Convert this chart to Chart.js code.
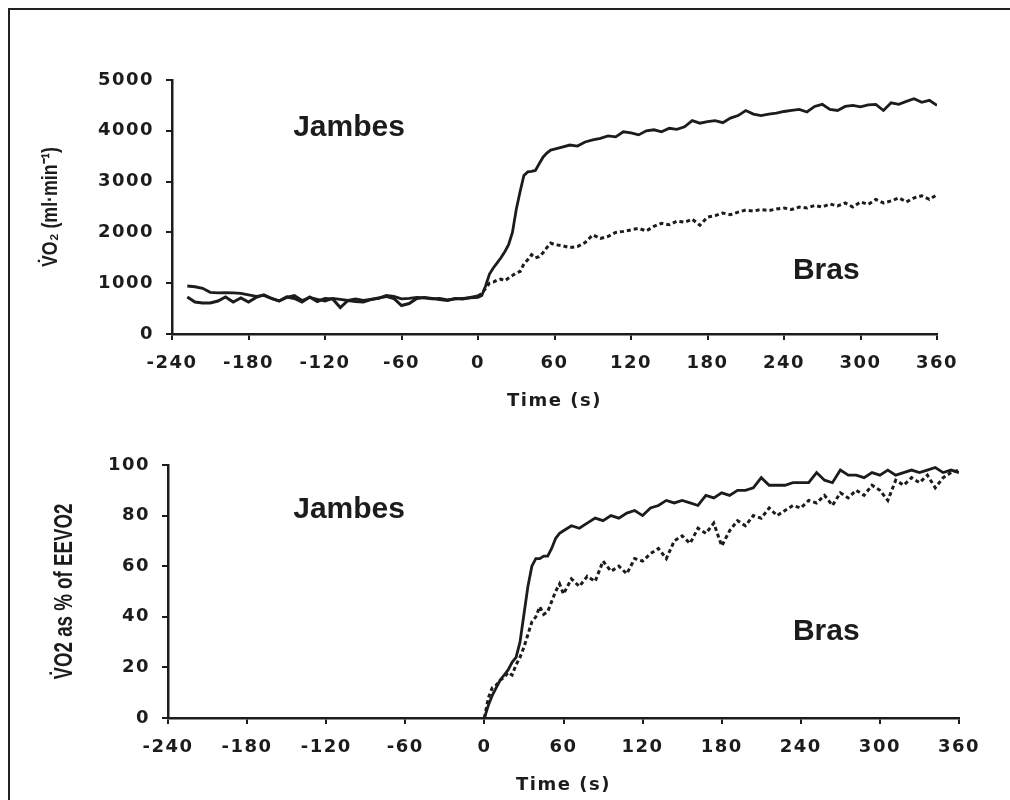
<!DOCTYPE html>
<html>
<head>
<meta charset="utf-8">
<script src="https://cdn.jsdelivr.net/npm/chart.js@4/dist/chart.umd.min.js"></script>
<style>
  html, body { margin: 0; padding: 0; background: #fff; }
  body { width: 1010px; height: 800px; position: relative; overflow: hidden; }
  .frame { position: absolute; left: 8px; top: 8px; width: 1020px; height: 810px;
           border-left: 2px solid #222; border-top: 2px solid #222; }
  canvas { position: absolute; left: 0; }
  #topChart { top: 0; }
  #bottomChart { top: 420px; }
</style>
</head>
<body>
<div class="frame"></div>
<canvas id="topChart" width="1010" height="420"></canvas>
<canvas id="bottomChart" width="1010" height="380"></canvas>
<script>
// ---- data ----
const timeTop = [
  -228, -222, -216, -210, -204, -198, -192, -186, -180, -174,
  -168, -162, -156, -150, -144, -138, -132, -126, -120, -114,
  -108, -102, -96, -90, -84, -78, -72, -66, -60, -54,
  -48, -42, -36, -30, -24, -18, -12, -6, 0,
  3, 6, 9, 12, 15, 18, 21, 24, 27, 30,
  33, 36, 39, 42, 45, 48, 51, 54, 57, 60,
  66, 72, 78, 84, 90, 96, 102, 108, 114, 120,
  126, 132, 138, 144, 150, 156, 162, 168, 174, 180,
  186, 192, 198, 204, 210, 216, 222, 228, 234, 240,
  246, 252, 258, 264, 270, 276, 282, 288, 294, 300,
  306, 312, 318, 324, 330, 336, 342, 348, 354, 360
];

// VO2 (ml/min), legs
const vo2Jambes = [
  945, 930, 900, 820, 810, 815, 810, 800, 770, 740,
  760, 700, 650, 720, 760, 660, 720, 680, 650, 700,
  680, 660, 690, 660, 680, 700, 760, 740, 690, 700,
  720, 710, 690, 700, 670, 690, 700, 710, 720,
  760, 950, 1180, 1300, 1400, 1500, 1620, 1760, 2000, 2450,
  2800, 3120, 3190, 3200, 3220, 3350, 3480, 3560, 3620, 3640,
  3680, 3720, 3700, 3780, 3820, 3850, 3900, 3880, 3980, 3960,
  3920, 4000, 4020, 3980, 4050, 4030, 4080, 4200, 4150, 4180,
  4200, 4160, 4250, 4300, 4400, 4330, 4300, 4330, 4350, 4380,
  4400, 4420, 4370, 4480, 4520, 4420, 4400, 4480, 4500, 4470,
  4510, 4520, 4400, 4550, 4520, 4580, 4630, 4560, 4600, 4500
];

// VO2 (ml/min), arms
const vo2Bras = [
  730, 630, 610, 610, 650, 730, 630, 710, 630, 720,
  770, 700, 650, 730, 700, 630, 730, 640, 700, 690,
  520, 660, 640, 630, 680, 710, 740, 700, 560, 600,
  700, 720, 700, 680, 660, 700, 690, 720, 750,
  800, 900, 1000, 1020, 1060, 1080, 1050, 1100, 1150, 1200,
  1230, 1380, 1460, 1560, 1500, 1520, 1600, 1700, 1790, 1760,
  1740, 1700, 1720, 1800, 1950, 1880, 1920, 2000, 2020, 2050,
  2080, 2030, 2120, 2180, 2150, 2220, 2200, 2260, 2140, 2300,
  2330, 2380, 2350, 2400, 2440, 2420, 2450, 2430, 2460, 2480,
  2450, 2500, 2480, 2530, 2500, 2560, 2520, 2580, 2500, 2600,
  2550, 2650, 2580, 2620, 2680, 2600, 2680, 2720, 2650, 2740
];

const timeBottom = [
  0, 3, 6, 9, 12, 15, 18, 21, 24, 27,
  30, 33, 36, 39, 42, 45, 48, 51, 54, 57, 60,
  66, 72, 78, 84, 90, 96, 102, 108, 114, 120,
  126, 132, 138, 144, 150, 156, 162, 168, 174, 180,
  186, 192, 198, 204, 210, 216, 222, 228, 234, 240,
  246, 252, 258, 264, 270, 276, 282, 288, 294, 300,
  306, 312, 318, 324, 330, 336, 342, 348, 354, 360
];

// VO2 as % of end-exercise VO2
const pctJambes = [
  0, 5, 9, 12, 15, 17, 19, 22, 24, 30,
  41, 52, 60, 63, 63, 64, 64, 67, 71, 73, 74,
  76, 75, 77, 79, 78, 80, 79, 81, 82, 80,
  83, 84, 86, 85, 86, 85, 84, 88, 87, 89,
  88, 90, 90, 91, 95, 92, 92, 92, 93, 93,
  93, 97, 94, 93, 98, 96, 96, 95, 97, 96,
  98, 96, 97, 98, 97, 98, 99, 97, 98, 97
];

const pctBras = [
  0, 8, 12, 13, 15, 16, 18, 17, 21, 24,
  28, 33, 38, 40, 44, 41, 42, 46, 50, 53, 49,
  55, 52, 56, 54, 62, 58, 60, 57, 63, 62,
  65, 67, 63, 70, 72, 69, 75, 73, 77, 68,
  74, 78, 76, 80, 79, 83, 80, 82, 84, 83,
  86, 85, 88, 84, 89, 87, 90, 88, 92, 90,
  86, 94, 92, 95, 93, 96, 91, 95, 97, 98
];

const timeTicks = [-240, -180, -120, -60, 0, 60, 120, 180, 240, 300, 360];
const seriesNames = ['Jambes', 'Bras'];
// where the in-plot names sit, in data units (time, value at baseline)
const nameTimes = [-145, 247];
const nameValuesTop = [3900, 1080];
const nameTimesBottom = [-145, 234];
const nameValuesBottom = [79, 31];

const INK = '#1c1c1c';
const TICK_FONT = { family: '"DejaVu Sans", Verdana, sans-serif', size: 18, weight: 'bold' };

// tick labels in the scan are very wide, so spread the letters a little
const wideText = {
  id: 'wideText',
  beforeLayout(chart) { chart.ctx.letterSpacing = '1.5px'; },
  beforeDraw(chart) { chart.ctx.letterSpacing = '1.5px'; }
};

function labelPlugin(cfg) {
  return {
    id: 'panelText',
    afterDraw(chart) {
      const { ctx, chartArea, scales } = chart;
      ctx.save();
      ctx.letterSpacing = '0px';
      ctx.fillStyle = INK;
      ctx.textBaseline = 'alphabetic';
      ctx.font = 'bold 30px "Liberation Sans", Arial, sans-serif';
      seriesNames.forEach((name, i) => {
        ctx.fillText(name, scales.x.getPixelForValue(cfg.nameTimes[i]),
                     scales.y.getPixelForValue(cfg.nameValues[i]));
      });

      // rotated y title, squeezed to the width it has in the figure
      ctx.font = cfg.yTitleFont;
      ctx.translate(cfg.yTitleX, (chartArea.top + chartArea.bottom) / 2);
      ctx.rotate(-Math.PI / 2);
      const w = ctx.measureText(cfg.yTitle).width;
      ctx.scale(cfg.yTitleLength / w, 1);
      ctx.textAlign = 'center';
      ctx.fillText(cfg.yTitle, 0, 0);
      ctx.restore();
    }
  };
}

function toPoints(times, values) {
  return times.map((t, i) => ({ x: t, y: values[i] }));
}

function buildPanel(canvasId, cfg) {
  return new Chart(document.getElementById(canvasId), {
    type: 'line',
    data: {
      datasets: [
        {
          label: 'Jambes',
          data: toPoints(cfg.times, cfg.jambes),
          borderColor: INK,
          borderWidth: 2.8,
          pointRadius: 0,
          tension: 0
        },
        {
          label: 'Bras',
          data: toPoints(cfg.times, cfg.bras),
          borderColor: INK,
          borderWidth: 3,
          pointRadius: 0,
          tension: 0,
          segment: {
            borderDash: c => (c.p0.parsed.x >= 0 ? [4, 3] : undefined)
          }
        }
      ]
    },
    options: {
      responsive: false,
      animation: false,
      events: [],
      layout: { padding: cfg.padding },
      plugins: {
        legend: { display: false },
        tooltip: { enabled: false }
      },
      scales: {
        x: {
          type: 'linear',
          min: -240,
          max: 360,
          afterFit: s => { s.height = cfg.xHeight; },
          afterBuildTicks: s => { s.ticks = timeTicks.map(v => ({ value: v })); },
          ticks: { color: INK, font: TICK_FONT, padding: 13, maxRotation: 0, callback: v => String(v) },
          grid: { drawOnChartArea: false, drawTicks: true, tickLength: 6, color: INK, lineWidth: 2 },
          border: { display: true, color: INK, width: 2.5 },
          title: {
            display: true,
            text: 'Time (s)',
            color: INK,
            font: { family: '"DejaVu Sans", Verdana, sans-serif', size: 18, weight: 'bold' },
            padding: { top: 0, bottom: cfg.xTitlePad }
          }
        },
        y: {
          min: 0,
          max: cfg.yMax,
          afterFit: s => { s.width = cfg.yWidth; },
          ticks: { stepSize: cfg.yStep, color: INK, font: TICK_FONT, padding: 12, callback: v => String(v) },
          grid: { drawOnChartArea: false, drawTicks: true, tickLength: 6, color: INK, lineWidth: 2 },
          border: { display: true, color: INK, width: 2.5 }
        }
      }
    },
    plugins: [wideText, labelPlugin(cfg)]
  });
}

buildPanel('topChart', {
  times: timeTop,
  jambes: vo2Jambes,
  bras: vo2Bras,
  yMax: 5000,
  yStep: 1000,
  yWidth: 172,
  xHeight: 86,
  xTitlePad: 8,
  padding: { top: 80, right: 73, bottom: 0, left: 0 },
  nameTimes: nameTimes,
  nameValues: nameValuesTop,
  yTitle: 'V\u0307O\u2082 (ml\u00B7min\u207B\u00B9)',
  yTitleFont: 'bold 22px "Liberation Sans", Arial, sans-serif',
  yTitleX: 57,
  yTitleLength: 120
});

buildPanel('bottomChart', {
  times: timeBottom,
  jambes: pctJambes,
  bras: pctBras,
  yMax: 100,
  yStep: 20,
  yWidth: 168,
  xHeight: 82,
  xTitlePad: 4,
  padding: { top: 45, right: 51, bottom: 0, left: 0 },
  nameTimes: nameTimesBottom,
  nameValues: nameValuesBottom,
  yTitle: 'V\u0307O2 as % of EEVO2',
  yTitleFont: 'bold 25px "Liberation Sans Narrow", "Liberation Sans", Arial, sans-serif',
  yTitleX: 72,
  yTitleLength: 176
});
</script>
</body>
</html>
